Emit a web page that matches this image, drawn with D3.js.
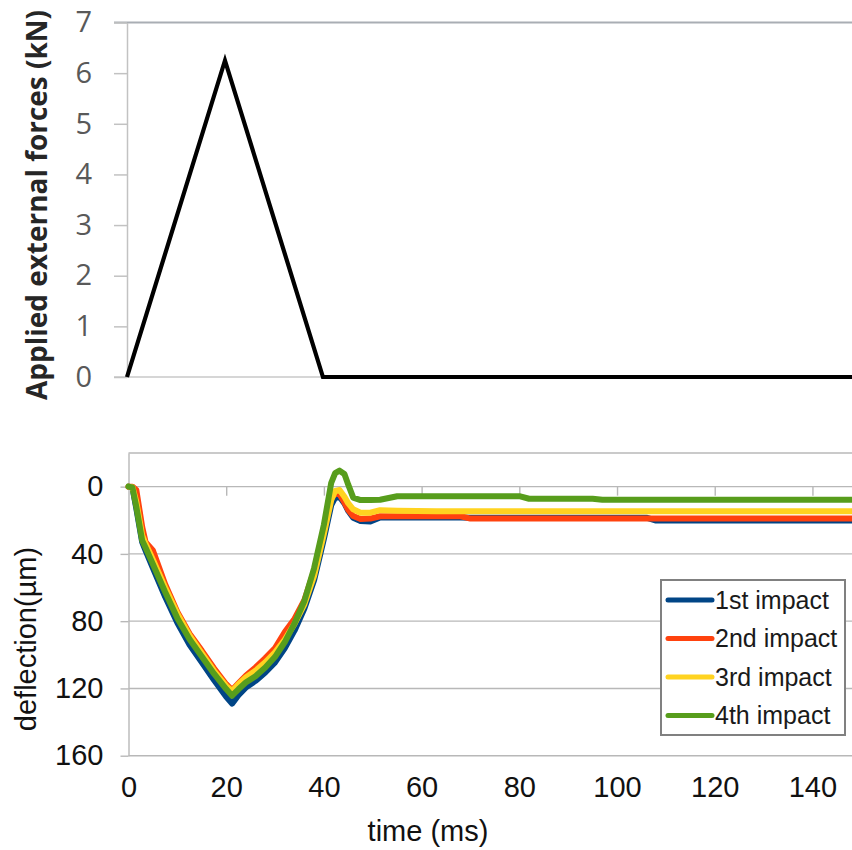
<!DOCTYPE html>
<html>
<head>
<meta charset="utf-8">
<script src="https://cdn.jsdelivr.net/npm/d3@7"></script>
<style>
  body { margin: 0; background: #ffffff; }
  svg { display: block; }
</style>
</head>
<body>
<svg id="chart" width="852" height="850"></svg>
<script>
// ---- Applied load pulse (top panel) ----
const forceTime = [0, 20, 40, 148];
const forceKN = [0, 6.25, 0, 0];
const forceTicks = [0, 1, 2, 3, 4, 5, 6, 7];

// ---- Measured deflection for four successive impacts (bottom panel) ----
const time = [0, 0.8, 1.6, 2.8, 3.5, 5, 7.5, 10, 12.5, 15,
              17.5, 20, 21.2, 22.5, 24, 26, 28, 30, 32, 34,
              36, 38, 40, 41.5, 42.3, 43.2, 44.2, 45, 46, 47.5,
              49.5, 51.5, 55, 63, 68, 70, 80, 82, 95, 97,
              106, 108, 148];
const impact1 = [0, 0.5, 13, 33, 38, 48.5, 65.5, 81, 94, 104.5,
                 115, 125, 129, 124, 119.5, 115.5, 110.5, 104.5, 96, 85.5,
                 72.5, 55.5, 31, 11, 6.5, 6, 10, 14.5, 18.5, 20.5,
                 20.8, 18.3, 18.4, 18.4, 18.4, 18.5, 18.5, 18.5, 18.5, 18.5,
                 18.5, 20.2, 20.2];
const impact2 = [0, 0, 2, 24, 33, 38, 58, 74.5, 87.5, 97.5,
                 108, 117.5, 121, 117, 112.5, 107.5, 102, 96, 86.5, 78.5,
                 67.5, 50, 25, 7, 4, 4.5, 9.5, 14, 17.5, 19.3,
                 19, 17.6, 17.6, 17.6, 17.6, 19, 19, 19, 19, 19,
                 19, 19, 19];
const impact3 = [0, 0.3, 9, 29, 34, 43.5, 60, 75.5, 88.5, 99,
                 109.5, 118.5, 121.5, 117.5, 113.5, 109.5, 104.5, 98.5, 91, 81.5,
                 70, 53, 28, 8, 2.5, 2, 6, 10, 13.5, 15.5,
                 15.5, 14, 14.3, 14.6, 14.6, 14.6, 14.6, 14.6, 14.6, 14.6,
                 14.6, 14.6, 14.6];
const impact4 = [0, 0.5, 12, 32, 36.3, 46.2, 62.7, 78.2, 90.8, 101,
                 111.2, 120.4, 124.3, 120.5, 116.5, 112.7, 107.6, 101.2, 92.4, 81.2,
                 68, 48.4, 22.6, -2.3, -8, -9.5, -7.5, -1, 6.5, 8,
                 8, 7.8, 5.7, 5.7, 5.7, 5.7, 5.7, 7.2, 7.2, 7.8,
                 7.8, 7.8, 7.8];
const seriesNames = ["1st impact", "2nd impact", "3rd impact", "4th impact"];
const seriesColors = ["#004586", "#ff420e", "#ffd320", "#579d1c"];
const deflectionTicks = [0, 40, 80, 120, 160];
const timeTicks = [0, 20, 40, 60, 80, 100, 120, 140];

const svg = d3.select("#chart");
const W = 852;

// ================= Top panel: applied force =================
const forceBox = { left: 127, right: W, top: 22.5, bottom: 377 };
const xTop = d3.scaleLinear().domain([0, 148]).range([forceBox.left, forceBox.right]);
const yTop = d3.scaleLinear().domain([0, 7]).range([forceBox.bottom, forceBox.top]);

const gTop = svg.append("g");

// frame lines at 0 and at the top of the range
gTop.append("line")
  .attr("x1", forceBox.left - 13).attr("x2", forceBox.right)
  .attr("y1", yTop(7)).attr("y2", yTop(7))
  .attr("stroke", "#a9aeb4").attr("stroke-width", 2);
gTop.append("line")
  .attr("x1", forceBox.left - 13).attr("x2", forceBox.right)
  .attr("y1", yTop(0)).attr("y2", yTop(0))
  .attr("stroke", "#c8c8c8").attr("stroke-width", 1.5);

const yAxisTop = d3.axisLeft(yTop)
  .tickValues(forceTicks)
  .tickSize(13)
  .tickSizeOuter(0)
  .tickPadding(22)
  .tickFormat(d3.format("d"));
const gyTop = gTop.append("g")
  .attr("transform", `translate(${forceBox.left},0)`)
  .call(yAxisTop);
gyTop.select(".domain").attr("stroke", "#c2c2c2").attr("stroke-width", 1.5);
gyTop.selectAll(".tick line").attr("stroke", "#c2c2c2").attr("stroke-width", 1.5);
gyTop.selectAll(".tick text")
  .attr("fill", "#595959")
  .style("font-family", "'Open Sans', sans-serif")
  .style("font-size", "29px");

// force pulse
const forceLine = d3.line()
  .x((d, i) => xTop(forceTime[i]))
  .y(d => yTop(d));
gTop.append("path")
  .datum(forceKN)
  .attr("d", forceLine)
  .attr("fill", "none")
  .attr("stroke", "#000")
  .attr("stroke-width", 4.2)
  .attr("stroke-linejoin", "miter");

// rotated axis title, sized to span the panel height
const forceTitle = gTop.append("text")
  .attr("transform", `translate(47,${205}) rotate(-90)`)
  .attr("text-anchor", "middle")
  .attr("fill", "#262626")
  .style("font-family", "'Open Sans', sans-serif")
  .style("font-weight", "700")
  .style("font-size", "25px")
  .text("Applied external forces (kN)");
{
  const len = forceTitle.node().getComputedTextLength();
  const fs = 25 * 390 / len;
  forceTitle.style("font-size", fs.toFixed(2) + "px");
}

// ================= Bottom panel: deflection =================
const deflBox = { left: 128.5, right: W, top: 453, bottom: 755.7 };
const x = d3.scaleLinear().domain([0, 148.1]).range([deflBox.left, deflBox.right]);
const y = d3.scaleLinear().domain([-20, 160]).range([deflBox.top, deflBox.bottom]);

const gBot = svg.append("g");
const font = "'Liberation Sans', Arial, sans-serif";

// horizontal grid (including the upper frame line)
gBot.append("g")
  .selectAll("line")
  .data([-20, ...deflectionTicks])
  .join("line")
  .attr("x1", deflBox.left).attr("x2", deflBox.right)
  .attr("y1", d => y(d)).attr("y2", d => y(d))
  .attr("stroke", "#b8b8b8").attr("stroke-width", 1.4);

// vertical axis with ticks and labels
const yAxis = d3.axisLeft(y)
  .tickValues(deflectionTicks)
  .tickSize(8)
  .tickSizeOuter(0)
  .tickPadding(17);
const gy = gBot.append("g")
  .attr("transform", `translate(${deflBox.left},0)`)
  .call(yAxis);
gy.select(".domain").attr("stroke", "#b8b8b8").attr("stroke-width", 1.4);
gy.selectAll(".tick line").attr("stroke", "#b8b8b8").attr("stroke-width", 1.4);
gy.selectAll(".tick text")
  .attr("fill", "#111")
  .style("font-family", font)
  .style("font-size", "29px");

// time axis crosses at zero deflection: tick marks only
const xAxisZero = d3.axisBottom(x)
  .tickValues(timeTicks.filter(d => d > 0))
  .tickSize(9)
  .tickSizeOuter(0)
  .tickFormat("");
const gxz = gBot.append("g")
  .attr("transform", `translate(0,${y(0)})`)
  .call(xAxisZero);
gxz.select(".domain").remove();
gxz.selectAll(".tick line").attr("stroke", "#b8b8b8").attr("stroke-width", 1.4);

// time labels beneath the panel
const xAxisLabels = d3.axisBottom(x)
  .tickValues(timeTicks)
  .tickSize(0)
  .tickPadding(21);
const gxl = gBot.append("g")
  .attr("transform", `translate(0,${y(160)})`)
  .call(xAxisLabels);
gxl.select(".domain").remove();
gxl.selectAll(".tick text")
  .attr("fill", "#111")
  .style("font-family", font)
  .style("font-size", "29px");

// axis titles
gBot.append("text")
  .attr("x", 428).attr("y", 841)
  .attr("text-anchor", "middle")
  .attr("fill", "#111")
  .style("font-family", font)
  .style("font-size", "29px")
  .text("time (ms)");
gBot.append("text")
  .attr("transform", `translate(36,${639}) rotate(-90)`)
  .attr("text-anchor", "middle")
  .attr("fill", "#111")
  .style("font-family", font)
  .style("font-size", "29px")
  .text("deflection(µm)");

// deflection curves, 1st impact drawn first so later impacts sit on top
const series = [impact1, impact2, impact3, impact4];
const line = d3.line()
  .x((d, i) => x(time[i]))
  .y(d => y(d));
gBot.append("g")
  .selectAll("path")
  .data(series)
  .join("path")
  .attr("d", line)
  .attr("fill", "none")
  .attr("stroke", (d, i) => seriesColors[i])
  .attr("stroke-width", 6)
  .attr("stroke-linejoin", "round")
  .attr("stroke-linecap", "round");

// legend
const lg = gBot.append("g");
lg.append("rect")
  .attr("x", 661).attr("y", 580)
  .attr("width", 184).attr("height", 155)
  .attr("fill", "#fff")
  .attr("stroke", "#808080").attr("stroke-width", 2);
const items = lg.selectAll("g.item")
  .data(seriesNames)
  .join("g")
  .attr("class", "item")
  .attr("transform", (d, i) => `translate(0,${600 + i * 38.5})`);
items.append("line")
  .attr("x1", 668).attr("x2", 712)
  .attr("y1", 0).attr("y2", 0)
  .attr("stroke", (d, i) => seriesColors[i])
  .attr("stroke-width", 5)
  .attr("stroke-linecap", "round");
items.append("text")
  .attr("x", 715).attr("y", 8.5)
  .attr("fill", "#1a1a1a")
  .style("font-family", font)
  .style("font-size", "25px")
  .text(d => d);
</script>
</body>
</html>
